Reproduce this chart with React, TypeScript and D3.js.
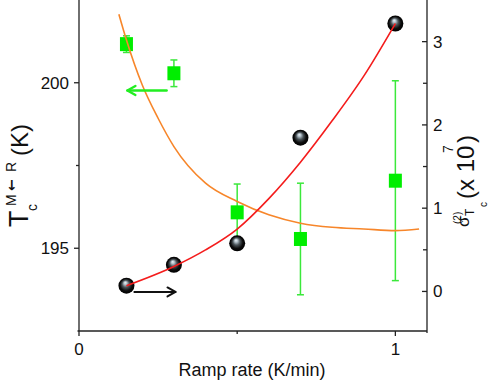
import React from "react";
import * as d3 from "d3";

// ---- data ----
const rampRates = [0.15, 0.3, 0.5, 0.7, 1.0];
const tcValues = [193.87, 194.5, 195.15, 198.34, 201.79];
const sigmaValues = [2.97, 2.62, 0.95, 0.63, 1.33];
const sigmaErrors = [0.1, 0.16, 0.34, 0.67, 1.2];

const tcFitX = [0.15, 0.3, 0.4, 0.5, 0.6, 0.7, 0.8, 0.9, 1.0];
const tcFitY = [193.87, 194.45, 194.95, 195.58, 196.5, 197.6, 198.85, 200.2, 201.79];

const sigmaFitX = [0.126, 0.15, 0.2, 0.25, 0.3, 0.4, 0.5, 0.6, 0.7, 0.8, 0.9, 1.0, 1.075];
const sigmaFitY = [3.33, 3.02, 2.48, 2.08, 1.74, 1.3, 1.08, 0.92, 0.82, 0.77, 0.75, 0.73, 0.75];

const xTicksMajor = [0, 1];
const xTicksMinor = [0.5];
const leftTicksMajor = [195, 200];
const leftTicksMinor = [197.5];
const rightTicksMajor = [0, 1, 2, 3];
const rightTicksMinor = [0.5, 1.5, 2.5];

// arrows (data coordinates)
const blackArrow = { x0: 0.175, x1: 0.305, y: 193.68 }; // left axis, points right
const greenArrow = { x0: 0.277, x1: 0.153, y: 2.414 }; // right axis, points left

const FONT = "'Liberation Sans', Arial, sans-serif";

export default function App() {
  const W = 490;
  const H = 381;
  const x = d3.scaleLinear().domain([0, 1.1]).range([79, 427]);
  const yL = d3.scaleLinear().domain([192.5, 202.5]).range([331, 0]);
  const yR = d3.scaleLinear().domain([-0.475, 3.5]).range([331, 0]);

  const tcLine = d3
    .line<number>()
    .x((_, i) => x(tcFitX[i]))
    .y((d) => yL(d))
    .curve(d3.curveMonotoneX)(tcFitY);
  const sigLine = d3
    .line<number>()
    .x((_, i) => x(sigmaFitX[i]))
    .y((d) => yR(d))
    .curve(d3.curveMonotoneX)(sigmaFitY);

  const axisColor = "#222";
  const green = "#00ee00";
  const greenBar = "#3be83b";

  const ba = { x0: x(blackArrow.x0), x1: x(blackArrow.x1), y: yL(blackArrow.y) };
  const ga = { x0: x(greenArrow.x0), x1: x(greenArrow.x1), y: yR(greenArrow.y) };

  return (
    <svg
      width={W}
      height={H}
      style={{ position: "fixed", left: 0, top: 0, background: "#fff" }}
      fontFamily={FONT}
    >
      <defs>
        <radialGradient id="ball" cx="0.5" cy="0.5" r="0.5" fx="0.42" fy="0.3">
          <stop offset="0" stopColor="#eef3f6" />
          <stop offset="0.18" stopColor="#b8c6cf" />
          <stop offset="0.45" stopColor="#4a5358" />
          <stop offset="0.75" stopColor="#0c0c0c" />
          <stop offset="1" stopColor="#000" />
        </radialGradient>
      </defs>

      {/* axes */}
      <line x1={x(0) - 1.5} x2={x(1.1)} y1={331} y2={331} stroke={axisColor} strokeWidth={1.3} />
      <line x1={x(0)} x2={x(0)} y1={0} y2={331} stroke={axisColor} strokeWidth={1.3} />
      <line x1={x(1.1)} x2={x(1.1)} y1={0} y2={333} stroke={axisColor} strokeWidth={1.3} />

      {/* x ticks */}
      {xTicksMajor.map((t) => (
        <g key={"xm" + t}>
          <line x1={x(t)} x2={x(t)} y1={331} y2={336} stroke={axisColor} strokeWidth={1.3} />
          <text x={x(t)} y={355} fontSize={17} textAnchor="middle" fill="#111">
            {t}
          </text>
        </g>
      ))}
      {xTicksMinor.map((t) => (
        <line key={"xn" + t} x1={x(t)} x2={x(t)} y1={331} y2={334} stroke={axisColor} strokeWidth={1.3} />
      ))}
      <text x={252} y={376} fontSize={18} textAnchor="middle" fill="#111">
        Ramp rate (K/min)
      </text>

      {/* left ticks */}
      {leftTicksMajor.map((t) => (
        <g key={"lm" + t}>
          <line x1={x(0) - 5} x2={x(0)} y1={yL(t)} y2={yL(t)} stroke={axisColor} strokeWidth={1.3} />
          <text x={69} y={yL(t) + 6} fontSize={17} textAnchor="end" fill="#111">
            {t}
          </text>
        </g>
      ))}
      {leftTicksMinor.map((t) => (
        <line key={"ln" + t} x1={x(0) - 3} x2={x(0)} y1={yL(t)} y2={yL(t)} stroke={axisColor} strokeWidth={1.3} />
      ))}

      {/* right ticks (inward) */}
      {rightTicksMajor.map((t) => (
        <g key={"rm" + t}>
          <line x1={x(1.1) - 5} x2={x(1.1)} y1={yR(t)} y2={yR(t)} stroke={axisColor} strokeWidth={1.3} />
          <text x={433} y={yR(t) + 6} fontSize={17} textAnchor="start" fill="#111">
            {t}
          </text>
        </g>
      ))}
      {rightTicksMinor.map((t) => (
        <line key={"rn" + t} x1={x(1.1) - 4} x2={x(1.1)} y1={yR(t)} y2={yR(t)} stroke={axisColor} strokeWidth={1.3} />
      ))}

      {/* left title: T_c^{M<-R} (K) */}
      <g transform="translate(28,227) rotate(-90)" fill="#111">
        <text x={0} y={0} fontSize={27}>T</text>
        <text x={16} y={9} fontSize={14}>c</text>
        <text x={21} y={-12} fontSize={14}>M</text>
        <text x={36} y={-12} fontSize={14} fontWeight="bold" fontFamily="'DejaVu Sans', sans-serif">←</text>
        <text x={55} y={-12} fontSize={14}>R</text>
        <text x={71} y={0} fontSize={24}>(K)</text>
      </g>

      {/* right title: sigma^{(2)}_{T_c} (x 10^7) */}
      <g transform="translate(474,227) rotate(-90)" fill="#111">
        <text x={0} y={-5} fontSize={17}>σ</text>
        <text x={3} y={-13} fontSize={10}>(2)</text>
        <text x={11} y={0} fontSize={12}>T</text>
        <text x={20} y={13} fontSize={10}>c</text>
        <text x={28} y={0} fontSize={24}>(x 10</text>
        <text x={74} y={-21} fontSize={14}>7</text>
        <text x={84} y={0} fontSize={24}>)</text>
      </g>

      {/* error bars */}
      {rampRates.map((r, i) => {
        const cx = x(r);
        const y0 = yR(sigmaValues[i] - sigmaErrors[i]);
        const y1 = yR(sigmaValues[i] + sigmaErrors[i]);
        return (
          <g key={"eb" + i} stroke={greenBar} strokeWidth={1.5}>
            <line x1={cx} x2={cx} y1={y0} y2={y1} />
            <line x1={cx - 3.5} x2={cx + 3.5} y1={y0} y2={y0} />
            <line x1={cx - 3.5} x2={cx + 3.5} y1={y1} y2={y1} />
          </g>
        );
      })}
      {/* green squares */}
      {rampRates.map((r, i) => (
        <rect key={"sq" + i} x={x(r) - 6.5} y={yR(sigmaValues[i]) - 7} width={13} height={14} fill={green} />
      ))}

      {/* black spheres */}
      {rampRates.map((r, i) => (
        <circle key={"ball" + i} cx={x(r)} cy={yL(tcValues[i])} r={8} fill="url(#ball)" />
      ))}

      {/* fit curves */}
      <path d={sigLine || ""} fill="none" stroke="#f7862a" strokeWidth={1.6} />
      <path d={tcLine || ""} fill="none" stroke="#f41c1c" strokeWidth={1.6} />

      {/* arrows */}
      <g stroke="#111" strokeWidth={2} fill="none" strokeLinecap="round" strokeLinejoin="round">
        <line x1={ba.x0} x2={ba.x1} y1={ba.y} y2={ba.y} />
        <polyline points={`${ba.x1 - 8},${ba.y - 4.5} ${ba.x1},${ba.y} ${ba.x1 - 8},${ba.y + 4.5}`} />
      </g>
      <g stroke="#22ee22" strokeWidth={2.4} fill="none" strokeLinecap="round" strokeLinejoin="round">
        <line x1={ga.x0} x2={ga.x1} y1={ga.y} y2={ga.y} />
        <polyline points={`${ga.x1 + 8},${ga.y - 4.5} ${ga.x1},${ga.y} ${ga.x1 + 8},${ga.y + 4.5}`} />
      </g>
    </svg>
  );
}
